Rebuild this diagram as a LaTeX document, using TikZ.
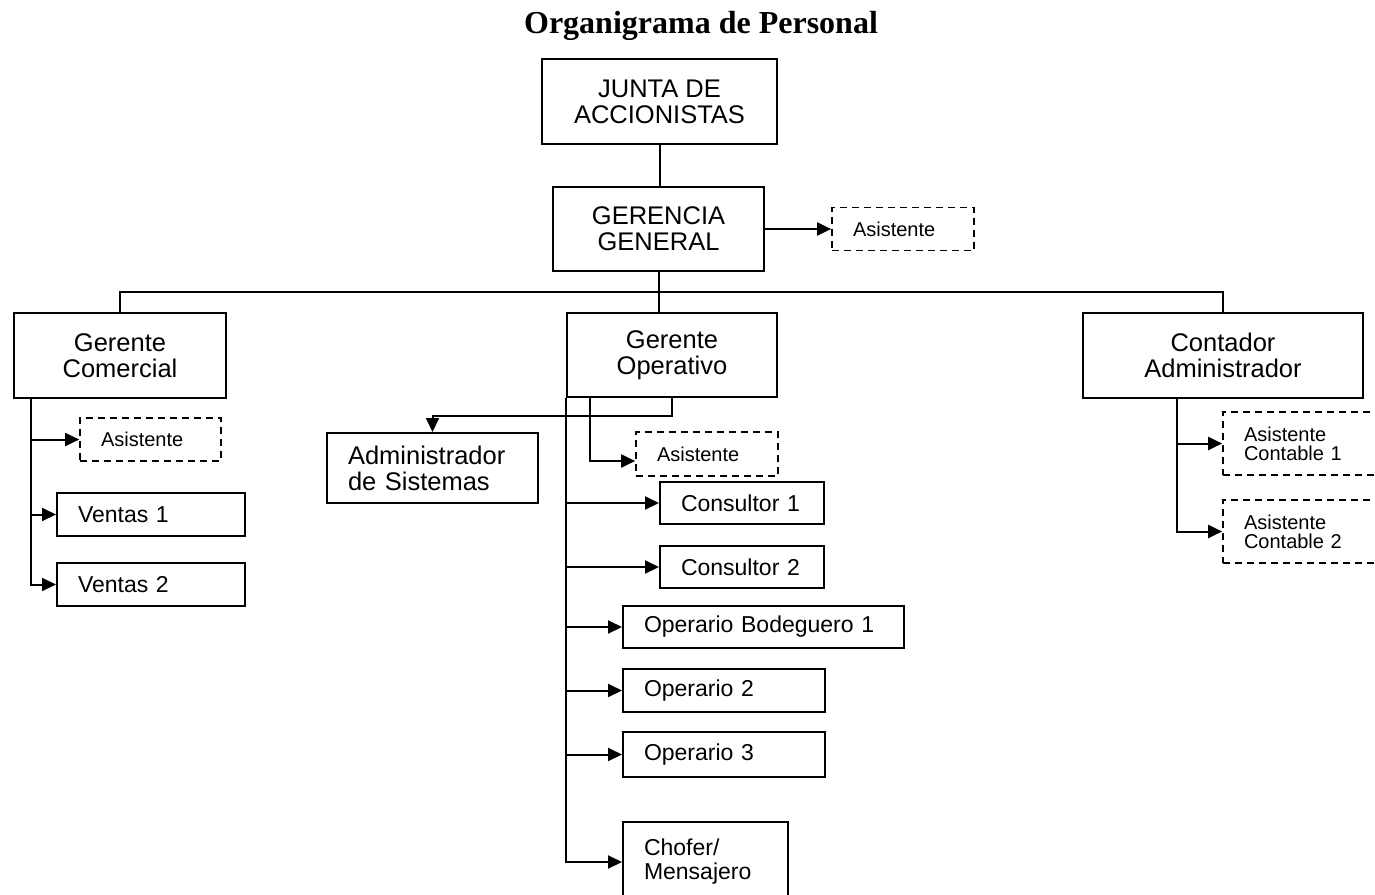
\documentclass[tikz,border=0pt]{standalone}
\usepackage{fontspec}
\setmainfont{Liberation Sans}
\newfontfamily\titlefont{Liberation Serif}
\usepackage{tikz}
\usetikzlibrary{arrows.meta}
\newcommand\bigtxt{\fontsize{25.5}{26}\selectfont}
\newcommand\midtxt{\fontsize{23}{24}\selectfont}
\newcommand\smalltxt{\fontsize{20}{19}\selectfont}

\begin{document}
\begin{tikzpicture}[x=1pt,y=-1pt,line width=2pt,>={Triangle[length=14pt,width=13pt]},
  chiefbox/.style={draw,align=center,font=\bigtxt,inner sep=0pt},
  staffbox/.style={draw,align=left,font=\midtxt,inner xsep=21pt,inner ysep=0pt},
  helpbox/.style={staffbox,font=\smalltxt,dash pattern=on 7pt off 5pt,line width=1.7pt}]
  \useasboundingbox (0,0) rectangle (1375,894);
  \fill[white] (0,0) rectangle (1375,894);
  \clip (0,0) rectangle (1375,894);
  \node[font={\titlefont\bfseries\fontsize{32}{34}\selectfont},anchor=base] (title) at (701,33) {Organigrama de Personal};
  % ---- top: board and general management ----
  \node[chiefbox,minimum width=235,minimum height=85] (junta) at (659.5,101.5) {JUNTA DE\\ACCIONISTAS};
  \node[chiefbox,minimum width=211,minimum height=84] (gerencia) at (658.5,229) {GERENCIA\\GENERAL};
  \node[helpbox,text width=100,minimum height=43] (asisg) at (903,229) {Asistente};
  \draw (junta.south) -- (junta.south |- gerencia.north);
  \draw[->] (gerencia.east) -- (asisg.west);
  % ---- second level: managers ----
  \node[chiefbox,minimum width=212,minimum height=85] (comercial) at (120,355.5) {Gerente\\Comercial};
  \node[chiefbox,minimum width=210,minimum height=84] (operativo) at (672,355) {Gerente\\Operativo};
  \node[chiefbox,minimum width=280,minimum height=85] (contador) at (1223,355.5) {Contador\\Administrador};
  \coordinate (bus) at (660,292);
  \draw (comercial.north) |- (bus) -| (contador.north);
  \draw (gerencia.south) -- (gerencia.south |- operativo.north);
  % ---- commercial branch ----
  \node[helpbox,text width=99,minimum height=43] (asisc) at (150.5,439.5) {Asistente};
  \node[staffbox,text width=146,minimum height=43] (ventas1) at (151,514.5) {Ventas 1};
  \node[staffbox,text width=146,minimum height=43] (ventas2) at (151,584.5) {Ventas 2};
  \coordinate (cl) at (31,398);
  \foreach \n in {asisc,ventas1,ventas2}{
    \draw[->] (cl) |- (\n.west);}
  % ---- operations branch ----
  \node[staffbox,font=\bigtxt,text width=169,minimum height=70] (admin) at (432.5,468) {Administrador\\de Sistemas};
  \node[helpbox,text width=100,minimum height=44] (asiso) at (707,454) {Asistente};
  \node[staffbox,text width=122,minimum height=42] (cons1) at (742,503) {Consultor 1};
  \node[staffbox,text width=122,minimum height=42] (cons2) at (742,567) {Consultor 2};
  \node[staffbox,text width=239,minimum height=42] (bod) at (763.5,627) {Operario Bodeguero 1};
  \node[staffbox,text width=160,minimum height=43] (oper2) at (724,690.5) {Operario 2};
  \node[staffbox,text width=160,minimum height=45] (oper3) at (724,754.5) {Operario 3};
  \node[staffbox,text width=123,minimum height=80] (chofer) at (705.5,862) {Chofer/\\Mensajero};
  \draw[->] (operativo.south) -- ++(0,18) -| (admin.north);
  \coordinate (oa) at (590,397);
  \draw[->] (oa) |- ([yshift=-7pt]asiso.west);
  \coordinate (ol) at (operativo.south west);
  \foreach \n in {cons1,cons2,bod,oper2,oper3,chofer}{
    \draw[->] (ol) |- (\n.west);}
  % ---- accounting branch ----
  \node[helpbox,text width=138,minimum height=63] (cont1) at (1313,443.5) {Asistente\\Contable 1};
  \node[helpbox,text width=138,minimum height=63] (cont2) at (1313,531.5) {Asistente\\Contable 2};
  \coordinate (cal) at (1177,398);
  \draw[->] (cal) |- (cont1.west);
  \draw[->] (cal) |- (cont2.west);
\end{tikzpicture}
\end{document}
